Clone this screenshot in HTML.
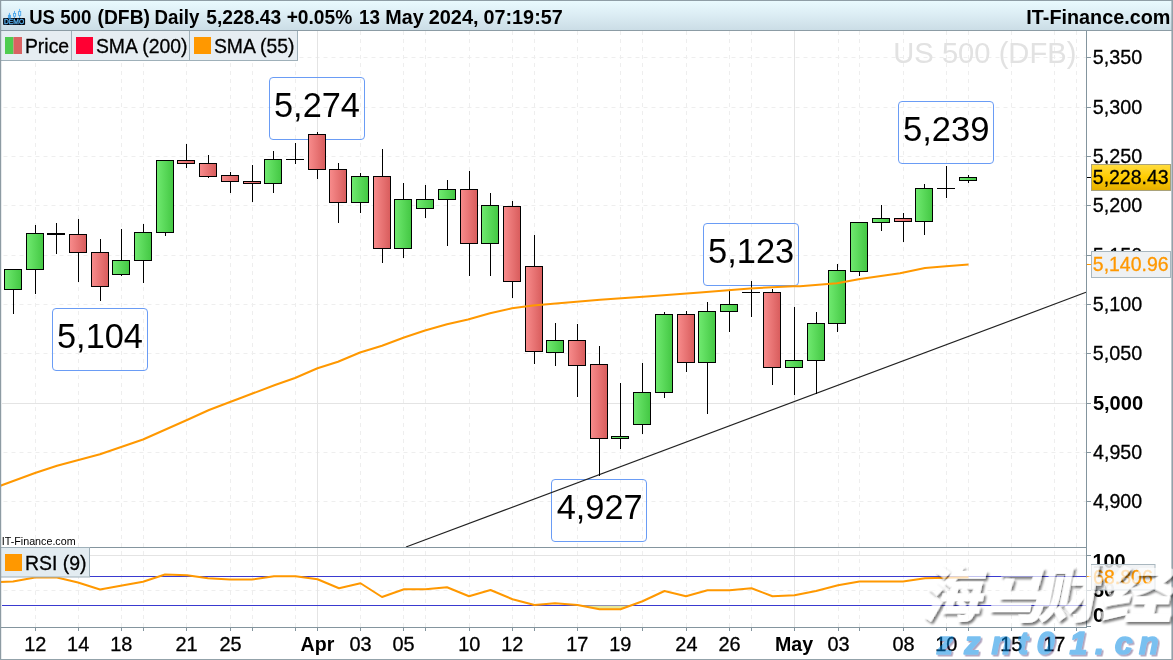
<!DOCTYPE html>
<html><head><meta charset="utf-8"><title>US 500 (DFB) Daily</title>
<style>
html,body{margin:0;padding:0;background:#fff;}
body{width:1173px;height:660px;overflow:hidden;position:relative;font-family:"Liberation Sans",sans-serif;}
svg{position:absolute;left:0;top:0;display:block;}
text{font-family:"Liberation Sans",sans-serif;}
.cjk{font-family:"Liberation Sans","Noto Sans CJK SC",sans-serif;}
</style></head><body>
<svg width="1173" height="660" viewBox="0 0 1173 660">
<defs>
<linearGradient id="hdr" x1="0" y1="0" x2="0" y2="1"><stop offset="0" stop-color="#eafbff"/><stop offset="0.5" stop-color="#dbecf3"/><stop offset="1" stop-color="#cadce5"/></linearGradient>
<linearGradient id="gG" x1="0" y1="0" x2="1" y2="0"><stop offset="0" stop-color="#70ea70"/><stop offset="1" stop-color="#43c743"/></linearGradient>
<linearGradient id="gR" x1="0" y1="0" x2="1" y2="0"><stop offset="0" stop-color="#f88c8c"/><stop offset="1" stop-color="#d85c5c"/></linearGradient>
<linearGradient id="gY" x1="0" y1="0" x2="0" y2="1"><stop offset="0" stop-color="#ffdc40"/><stop offset="0.5" stop-color="#ffcc00"/><stop offset="1" stop-color="#e4ae00"/></linearGradient>
<filter id="sh" x="-10%" y="-10%" width="130%" height="130%"><feDropShadow dx="2.5" dy="2.5" stdDeviation="1.3" flood-color="#000" flood-opacity="0.75"/></filter>
<filter id="sh2" x="-10%" y="-10%" width="130%" height="130%"><feDropShadow dx="1.6" dy="1.6" stdDeviation="0.6" flood-color="#402060" flood-opacity="0.8"/></filter>
</defs>
<rect x="0" y="0" width="1173" height="660" fill="#ffffff"/>

<g stroke="#eeeeee" stroke-width="1" stroke-dasharray="4 4" fill="none">
<line x1="35.5" y1="31" x2="35.5" y2="627"/>
<line x1="78.5" y1="31" x2="78.5" y2="627"/>
<line x1="121.5" y1="31" x2="121.5" y2="627"/>
<line x1="143.5" y1="31" x2="143.5" y2="627"/>
<line x1="186.5" y1="31" x2="186.5" y2="627"/>
<line x1="230.5" y1="31" x2="230.5" y2="627"/>
<line x1="252.5" y1="31" x2="252.5" y2="627"/>
<line x1="295.5" y1="31" x2="295.5" y2="627"/>
<line x1="360.5" y1="31" x2="360.5" y2="627"/>
<line x1="403.5" y1="31" x2="403.5" y2="627"/>
<line x1="425.5" y1="31" x2="425.5" y2="627"/>
<line x1="469.5" y1="31" x2="469.5" y2="627"/>
<line x1="512.5" y1="31" x2="512.5" y2="627"/>
<line x1="534.5" y1="31" x2="534.5" y2="627"/>
<line x1="577.5" y1="31" x2="577.5" y2="627"/>
<line x1="620.5" y1="31" x2="620.5" y2="627"/>
<line x1="642.5" y1="31" x2="642.5" y2="627"/>
<line x1="686.5" y1="31" x2="686.5" y2="627"/>
<line x1="729.5" y1="31" x2="729.5" y2="627"/>
<line x1="751.5" y1="31" x2="751.5" y2="627"/>
<line x1="838.5" y1="31" x2="838.5" y2="627"/>
<line x1="859.5" y1="31" x2="859.5" y2="627"/>
<line x1="903.5" y1="31" x2="903.5" y2="627"/>
<line x1="946.5" y1="31" x2="946.5" y2="627"/>
<line x1="968.5" y1="31" x2="968.5" y2="627"/>
<line x1="1011.5" y1="31" x2="1011.5" y2="627"/>
<line x1="1054.5" y1="31" x2="1054.5" y2="627"/>
<line x1="1076.5" y1="31" x2="1076.5" y2="627"/>
<line x1="-4.5" y1="57.5" x2="1086" y2="57.5"/>
<line x1="-4.5" y1="107.5" x2="1086" y2="107.5"/>
<line x1="-4.5" y1="156.5" x2="1086" y2="156.5"/>
<line x1="-4.5" y1="205.5" x2="1086" y2="205.5"/>
<line x1="-4.5" y1="255.5" x2="1086" y2="255.5"/>
<line x1="-4.5" y1="304.5" x2="1086" y2="304.5"/>
<line x1="-4.5" y1="353.5" x2="1086" y2="353.5"/>
<line x1="-4.5" y1="452.5" x2="1086" y2="452.5"/>
<line x1="-4.5" y1="501.5" x2="1086" y2="501.5"/>
<line x1="-4.5" y1="590.5" x2="1086" y2="590.5"/>
</g>
<g stroke="#e4e4e4" stroke-width="1" fill="none">
<line x1="317.5" y1="31" x2="317.5" y2="627"/>
<line x1="794.5" y1="31" x2="794.5" y2="627"/>
<line x1="2" y1="403.5" x2="1086" y2="403.5"/>
<line x1="2" y1="555.5" x2="1086" y2="555.5"/>
</g>
<text x="893.31" y="62.5" font-size="29" textLength="183.07" lengthAdjust="spacingAndGlyphs" fill="#e2e2e2">US 500 (DFB)</text>
<rect x="269.5" y="77.5" width="95" height="62" rx="3.5" ry="3.5" fill="none" stroke="#6a9cf5" stroke-width="1"/>
<text x="274.03" y="117.0" font-size="35.6" textLength="85.89" lengthAdjust="spacingAndGlyphs" fill="#000">5,274</text>
<rect x="52.5" y="308.5" width="95" height="62" rx="3.5" ry="3.5" fill="none" stroke="#6a9cf5" stroke-width="1"/>
<text x="57.03" y="348.0" font-size="35.6" textLength="85.89" lengthAdjust="spacingAndGlyphs" fill="#000">5,104</text>
<rect x="703.5" y="223.5" width="95" height="62" rx="3.5" ry="3.5" fill="none" stroke="#6a9cf5" stroke-width="1"/>
<text x="708.02" y="263.0" font-size="35.6" textLength="86.24" lengthAdjust="spacingAndGlyphs" fill="#000">5,123</text>
<rect x="551.5" y="479.5" width="95" height="62" rx="3.5" ry="3.5" fill="none" stroke="#6a9cf5" stroke-width="1"/>
<text x="556.71" y="519.0" font-size="35.6" textLength="85.89" lengthAdjust="spacingAndGlyphs" fill="#000">4,927</text>
<rect x="898.5" y="101.5" width="95" height="62" rx="3.5" ry="3.5" fill="none" stroke="#6a9cf5" stroke-width="1"/>
<text x="903.02" y="141.0" font-size="35.6" textLength="86.42" lengthAdjust="spacingAndGlyphs" fill="#000">5,239</text>
<line x1="406" y1="547" x2="1086" y2="292.3" stroke="#222" stroke-width="1.2"/>
<g stroke="#000" stroke-width="1">
<line x1="13.5" y1="269" x2="13.5" y2="314"/>
<rect x="4.5" y="269.5" width="17" height="20.0" fill="url(#gG)"/>
<line x1="35.5" y1="225" x2="35.5" y2="294"/>
<rect x="26.5" y="233.5" width="17" height="36.0" fill="url(#gG)"/>
<line x1="56.5" y1="223" x2="56.5" y2="254"/>
<line x1="47" y1="234.0" x2="65" y2="234.0" stroke-width="2"/>
<line x1="78.5" y1="219" x2="78.5" y2="282"/>
<rect x="69.5" y="234.5" width="17" height="18.0" fill="url(#gR)"/>
<line x1="100.5" y1="239" x2="100.5" y2="301"/>
<rect x="91.5" y="252.5" width="17" height="34.0" fill="url(#gR)"/>
<line x1="121.5" y1="229" x2="121.5" y2="276"/>
<rect x="112.5" y="260.5" width="17" height="14.0" fill="url(#gG)"/>
<line x1="143.5" y1="224" x2="143.5" y2="283"/>
<rect x="134.5" y="232.5" width="17" height="28.0" fill="url(#gG)"/>
<line x1="165.5" y1="160" x2="165.5" y2="236"/>
<rect x="156.5" y="160.5" width="17" height="72.0" fill="url(#gG)"/>
<line x1="186.5" y1="144" x2="186.5" y2="168"/>
<rect x="177.5" y="160.5" width="17" height="3.0" fill="url(#gR)"/>
<line x1="208.5" y1="155" x2="208.5" y2="178"/>
<rect x="199.5" y="163.5" width="17" height="13.0" fill="url(#gR)"/>
<line x1="230.5" y1="172" x2="230.5" y2="193"/>
<rect x="221.5" y="175.5" width="17" height="6.0" fill="url(#gR)"/>
<line x1="252.5" y1="165" x2="252.5" y2="202"/>
<rect x="243.5" y="181.5" width="17" height="2.0" fill="url(#gR)"/>
<line x1="273.5" y1="151" x2="273.5" y2="193"/>
<rect x="264.5" y="159.5" width="17" height="24.0" fill="url(#gG)"/>
<line x1="295.5" y1="143" x2="295.5" y2="164"/>
<line x1="286" y1="159.5" x2="304" y2="159.5" stroke-width="1"/>
<line x1="317.5" y1="132" x2="317.5" y2="179"/>
<rect x="308.5" y="134.5" width="17" height="35.0" fill="url(#gR)"/>
<line x1="338.5" y1="163" x2="338.5" y2="223"/>
<rect x="329.5" y="169.5" width="17" height="33.0" fill="url(#gR)"/>
<line x1="360.5" y1="173" x2="360.5" y2="213"/>
<rect x="351.5" y="176.5" width="17" height="26.0" fill="url(#gG)"/>
<line x1="382.5" y1="149" x2="382.5" y2="263"/>
<rect x="373.5" y="176.5" width="17" height="72.0" fill="url(#gR)"/>
<line x1="403.5" y1="183" x2="403.5" y2="258"/>
<rect x="394.5" y="199.5" width="17" height="49.0" fill="url(#gG)"/>
<line x1="425.5" y1="185" x2="425.5" y2="218"/>
<rect x="416.5" y="199.5" width="17" height="9.0" fill="url(#gG)"/>
<line x1="447.5" y1="180" x2="447.5" y2="246"/>
<rect x="438.5" y="189.5" width="17" height="10.0" fill="url(#gG)"/>
<line x1="469.5" y1="171" x2="469.5" y2="276"/>
<rect x="460.5" y="189.5" width="17" height="54.0" fill="url(#gR)"/>
<line x1="490.5" y1="193" x2="490.5" y2="276"/>
<rect x="481.5" y="205.5" width="17" height="38.0" fill="url(#gG)"/>
<line x1="512.5" y1="201" x2="512.5" y2="298"/>
<rect x="503.5" y="206.5" width="17" height="75.0" fill="url(#gR)"/>
<line x1="534.5" y1="235" x2="534.5" y2="364"/>
<rect x="525.5" y="266.5" width="17" height="85.0" fill="url(#gR)"/>
<line x1="555.5" y1="323" x2="555.5" y2="366"/>
<rect x="546.5" y="340.5" width="17" height="12.0" fill="url(#gG)"/>
<line x1="577.5" y1="324" x2="577.5" y2="397"/>
<rect x="568.5" y="340.5" width="17" height="25.0" fill="url(#gR)"/>
<line x1="599.5" y1="346" x2="599.5" y2="476"/>
<rect x="590.5" y="364.5" width="17" height="74.0" fill="url(#gR)"/>
<line x1="620.5" y1="383" x2="620.5" y2="449"/>
<rect x="611.5" y="436.5" width="17" height="2.0" fill="url(#gG)"/>
<line x1="642.5" y1="363" x2="642.5" y2="434"/>
<rect x="633.5" y="392.5" width="17" height="32.0" fill="url(#gG)"/>
<line x1="664.5" y1="312" x2="664.5" y2="398"/>
<rect x="655.5" y="314.5" width="17" height="78.0" fill="url(#gG)"/>
<line x1="686.5" y1="311" x2="686.5" y2="372"/>
<rect x="677.5" y="314.5" width="17" height="48.0" fill="url(#gR)"/>
<line x1="707.5" y1="302" x2="707.5" y2="414"/>
<rect x="698.5" y="311.5" width="17" height="51.0" fill="url(#gG)"/>
<line x1="729.5" y1="290" x2="729.5" y2="332"/>
<rect x="720.5" y="304.5" width="17" height="7.0" fill="url(#gG)"/>
<line x1="751.5" y1="281" x2="751.5" y2="317"/>
<line x1="742" y1="292.5" x2="760" y2="292.5" stroke-width="1"/>
<line x1="772.5" y1="289" x2="772.5" y2="385"/>
<rect x="763.5" y="292.5" width="17" height="75.0" fill="url(#gR)"/>
<line x1="794.5" y1="307" x2="794.5" y2="395"/>
<rect x="785.5" y="360.5" width="17" height="7.0" fill="url(#gG)"/>
<line x1="816.5" y1="312" x2="816.5" y2="394"/>
<rect x="807.5" y="323.5" width="17" height="37.0" fill="url(#gG)"/>
<line x1="837.5" y1="264" x2="837.5" y2="332"/>
<rect x="828.5" y="270.5" width="17" height="53.0" fill="url(#gG)"/>
<line x1="859.5" y1="222" x2="859.5" y2="276"/>
<rect x="850.5" y="222.5" width="17" height="49.0" fill="url(#gG)"/>
<line x1="881.5" y1="205" x2="881.5" y2="231"/>
<rect x="872.5" y="218.5" width="17" height="4.0" fill="url(#gG)"/>
<line x1="903.5" y1="213" x2="903.5" y2="242"/>
<rect x="894.5" y="218.5" width="17" height="3.0" fill="url(#gR)"/>
<line x1="924.5" y1="184" x2="924.5" y2="235"/>
<rect x="915.5" y="188.5" width="17" height="33.0" fill="url(#gG)"/>
<line x1="946.5" y1="166" x2="946.5" y2="198"/>
<line x1="937" y1="188.5" x2="955" y2="188.5" stroke-width="1"/>
<line x1="968.5" y1="175" x2="968.5" y2="183"/>
<rect x="959.5" y="177.5" width="17" height="3.0" fill="url(#gG)"/>
</g>
<polyline fill="none" stroke="#ff9800" stroke-width="2" stroke-linejoin="round" points="0,486 1,485.5 35,473 57,465.75 100,454.25 143,439.5 187,420 209,410 230,402 240,398.25 275,385 295,378 317.5,368.25 338,361.75 360,352.5 382,345.75 404,337.5 425,330.5 447,324.25 468,319.5 490,313.25 512,308.25 533,305.5 553,303.75 600,299.75 650,296.25 700,292.5 750,288.5 793,286.25 800,286.25 837,283.25 860,279 900,273.25 925,268 946,266.25 968.5,264.5"/>
<text x="1.73" y="545.3" font-size="11" textLength="73.92" lengthAdjust="spacingAndGlyphs" fill="#000">IT-Finance.com</text>
<rect x="0" y="547" width="1087" height="1" fill="#84959e"/>
<line x1="2" y1="576.5" x2="1086" y2="576.5" stroke="#3a3ad0" stroke-width="1"/>
<line x1="2" y1="605.5" x2="1086" y2="605.5" stroke="#3a3ad0" stroke-width="1"/>
<polygon points="577.5,605.5 599.5,609.25 620.5,609.25 632,605.5" fill="#e6e89a"/>
<polyline fill="none" stroke="#ff9800" stroke-width="2" stroke-linejoin="round" points="0,582 13,581.5 35,577.5 57,577.5 78,582.5 100,589.5 122,585.5 143,581.75 165,574.5 187,575.25 208,578.25 230,579.5 252,579.5 274,576.25 295.5,576.25 317.5,579.25 339,588.25 360.5,583.25 382,597 404,589.25 425.5,589.25 447,587.25 469,596.25 490.5,590 512.5,599.25 534.5,605 555,603.25 577.5,605 599.5,609.25 620.5,609.25 642.5,601.25 664.5,591 686,596.25 707.5,590.25 729.5,590.25 751.5,588.25 772.5,596.25 794.5,595.25 816,591 838,585.25 859.5,581.4 881,581.4 903,581.4 925,578.2 946,577.8 968.5,577.3"/>
<rect x="0.5" y="547.5" width="89" height="29.5" fill="#e3ecf1" stroke="#9fb0b9" stroke-width="1"/>
<rect x="5" y="554" width="17" height="17" fill="#ff9800"/>
<text x="25.04" y="569.9" font-size="19.9" textLength="61.56" lengthAdjust="spacingAndGlyphs" fill="#000" stroke="#000" stroke-width="0.3">RSI (9)</text>
<rect x="1086" y="31" width="1" height="597" fill="#84959e"/>
<rect x="0" y="627" width="1087" height="1" fill="#84959e"/>
<g stroke="#84959e" stroke-width="1">
<line x1="1087" y1="57.5" x2="1091" y2="57.5"/>
<line x1="1087" y1="107.5" x2="1091" y2="107.5"/>
<line x1="1087" y1="156.5" x2="1091" y2="156.5"/>
<line x1="1087" y1="205.5" x2="1091" y2="205.5"/>
<line x1="1087" y1="255.5" x2="1091" y2="255.5"/>
<line x1="1087" y1="304.5" x2="1091" y2="304.5"/>
<line x1="1087" y1="353.5" x2="1091" y2="353.5"/>
<line x1="1087" y1="452.5" x2="1091" y2="452.5"/>
<line x1="1087" y1="501.5" x2="1091" y2="501.5"/>
<line x1="1087" y1="403.5" x2="1091" y2="403.5"/>
<line x1="1087" y1="555.5" x2="1091" y2="555.5"/>
<line x1="1087" y1="590.5" x2="1091" y2="590.5"/>
<line x1="1087" y1="626.5" x2="1091" y2="626.5"/>
<line x1="35.5" y1="628" x2="35.5" y2="631"/>
<line x1="78.5" y1="628" x2="78.5" y2="631"/>
<line x1="121.5" y1="628" x2="121.5" y2="631"/>
<line x1="143.5" y1="628" x2="143.5" y2="631"/>
<line x1="186.5" y1="628" x2="186.5" y2="631"/>
<line x1="230.5" y1="628" x2="230.5" y2="631"/>
<line x1="252.5" y1="628" x2="252.5" y2="631"/>
<line x1="295.5" y1="628" x2="295.5" y2="631"/>
<line x1="360.5" y1="628" x2="360.5" y2="631"/>
<line x1="403.5" y1="628" x2="403.5" y2="631"/>
<line x1="425.5" y1="628" x2="425.5" y2="631"/>
<line x1="469.5" y1="628" x2="469.5" y2="631"/>
<line x1="512.5" y1="628" x2="512.5" y2="631"/>
<line x1="534.5" y1="628" x2="534.5" y2="631"/>
<line x1="577.5" y1="628" x2="577.5" y2="631"/>
<line x1="620.5" y1="628" x2="620.5" y2="631"/>
<line x1="642.5" y1="628" x2="642.5" y2="631"/>
<line x1="686.5" y1="628" x2="686.5" y2="631"/>
<line x1="729.5" y1="628" x2="729.5" y2="631"/>
<line x1="751.5" y1="628" x2="751.5" y2="631"/>
<line x1="838.5" y1="628" x2="838.5" y2="631"/>
<line x1="859.5" y1="628" x2="859.5" y2="631"/>
<line x1="903.5" y1="628" x2="903.5" y2="631"/>
<line x1="946.5" y1="628" x2="946.5" y2="631"/>
<line x1="968.5" y1="628" x2="968.5" y2="631"/>
<line x1="1011.5" y1="628" x2="1011.5" y2="631"/>
<line x1="1054.5" y1="628" x2="1054.5" y2="631"/>
<line x1="1076.5" y1="628" x2="1076.5" y2="631"/>
<line x1="317.5" y1="628" x2="317.5" y2="631"/>
<line x1="794.5" y1="628" x2="794.5" y2="631"/>
</g>
<g font-size="18.6" fill="#000">
<text x="1092.71" y="63.9" font-size="19.8" textLength="49.43" lengthAdjust="spacingAndGlyphs" fill="#000" stroke="#000" stroke-width="0.3">5,350</text>
<text x="1092.71" y="113.9" font-size="19.8" textLength="49.43" lengthAdjust="spacingAndGlyphs" fill="#000" stroke="#000" stroke-width="0.3">5,300</text>
<text x="1092.71" y="162.9" font-size="19.8" textLength="49.43" lengthAdjust="spacingAndGlyphs" fill="#000" stroke="#000" stroke-width="0.3">5,250</text>
<text x="1092.71" y="211.9" font-size="19.8" textLength="49.43" lengthAdjust="spacingAndGlyphs" fill="#000" stroke="#000" stroke-width="0.3">5,200</text>
<text x="1092.71" y="261.9" font-size="19.8" textLength="49.43" lengthAdjust="spacingAndGlyphs" fill="#000" stroke="#000" stroke-width="0.3">5,150</text>
<text x="1092.71" y="310.9" font-size="19.8" textLength="49.43" lengthAdjust="spacingAndGlyphs" fill="#000" stroke="#000" stroke-width="0.3">5,100</text>
<text x="1092.71" y="359.9" font-size="19.8" textLength="49.43" lengthAdjust="spacingAndGlyphs" fill="#000" stroke="#000" stroke-width="0.3">5,050</text>
<text x="1093.11" y="458.9" font-size="19.8" textLength="49.03" lengthAdjust="spacingAndGlyphs" fill="#000" stroke="#000" stroke-width="0.3">4,950</text>
<text x="1093.11" y="507.9" font-size="19.8" textLength="49.03" lengthAdjust="spacingAndGlyphs" fill="#000" stroke="#000" stroke-width="0.3">4,900</text>
<text x="1092.90" y="409.9" font-size="19.8" textLength="50.15" lengthAdjust="spacingAndGlyphs" font-weight="bold" fill="#000">5,000</text>
</g>
<text x="1092.40" y="567.5" font-size="19.8" textLength="33.26" lengthAdjust="spacingAndGlyphs" font-weight="bold" fill="#000">100</text>
<text x="1093.01" y="597" font-size="19.8" textLength="22.03" lengthAdjust="spacingAndGlyphs" font-weight="bold" fill="#000">50</text>
<text x="1092.96" y="622" font-size="19.8" textLength="11.71" lengthAdjust="spacingAndGlyphs" font-weight="bold" fill="#000">0</text>
<text x="24.31" y="650.6" font-size="19.8" textLength="22.14" lengthAdjust="spacingAndGlyphs" fill="#000" stroke="#000" stroke-width="0.3">12</text>
<text x="67.11" y="650.6" font-size="19.8" textLength="22.14" lengthAdjust="spacingAndGlyphs" fill="#000" stroke="#000" stroke-width="0.3">14</text>
<text x="110.21" y="650.6" font-size="19.8" textLength="22.14" lengthAdjust="spacingAndGlyphs" fill="#000" stroke="#000" stroke-width="0.3">18</text>
<text x="175.51" y="650.6" font-size="19.8" textLength="22.14" lengthAdjust="spacingAndGlyphs" fill="#000" stroke="#000" stroke-width="0.3">21</text>
<text x="219.46" y="650.6" font-size="19.8" textLength="22.14" lengthAdjust="spacingAndGlyphs" fill="#000" stroke="#000" stroke-width="0.3">25</text>
<text x="300.60" y="650.6" font-size="19.8" textLength="33.75" lengthAdjust="spacingAndGlyphs" font-weight="bold" fill="#000">Apr</text>
<text x="349.56" y="650.6" font-size="19.8" textLength="22.14" lengthAdjust="spacingAndGlyphs" fill="#000" stroke="#000" stroke-width="0.3">03</text>
<text x="392.56" y="650.6" font-size="19.8" textLength="22.14" lengthAdjust="spacingAndGlyphs" fill="#000" stroke="#000" stroke-width="0.3">05</text>
<text x="458.16" y="650.6" font-size="19.8" textLength="22.14" lengthAdjust="spacingAndGlyphs" fill="#000" stroke="#000" stroke-width="0.3">10</text>
<text x="501.31" y="650.6" font-size="19.8" textLength="22.14" lengthAdjust="spacingAndGlyphs" fill="#000" stroke="#000" stroke-width="0.3">12</text>
<text x="566.31" y="650.6" font-size="19.8" textLength="22.14" lengthAdjust="spacingAndGlyphs" fill="#000" stroke="#000" stroke-width="0.3">17</text>
<text x="609.26" y="650.6" font-size="19.8" textLength="22.14" lengthAdjust="spacingAndGlyphs" fill="#000" stroke="#000" stroke-width="0.3">19</text>
<text x="675.36" y="650.6" font-size="19.8" textLength="22.14" lengthAdjust="spacingAndGlyphs" fill="#000" stroke="#000" stroke-width="0.3">24</text>
<text x="718.46" y="650.6" font-size="19.8" textLength="22.14" lengthAdjust="spacingAndGlyphs" fill="#000" stroke="#000" stroke-width="0.3">26</text>
<text x="774.95" y="650.6" font-size="19.8" textLength="38.13" lengthAdjust="spacingAndGlyphs" font-weight="bold" fill="#000">May</text>
<text x="827.56" y="650.6" font-size="19.8" textLength="22.14" lengthAdjust="spacingAndGlyphs" fill="#000" stroke="#000" stroke-width="0.3">03</text>
<text x="892.56" y="650.6" font-size="19.8" textLength="22.14" lengthAdjust="spacingAndGlyphs" fill="#000" stroke="#000" stroke-width="0.3">08</text>
<text x="935.16" y="650.6" font-size="19.8" textLength="22.14" lengthAdjust="spacingAndGlyphs" fill="#000" stroke="#000" stroke-width="0.3">10</text>
<text x="1000.21" y="650.6" font-size="19.8" textLength="22.14" lengthAdjust="spacingAndGlyphs" fill="#000" stroke="#000" stroke-width="0.3">15</text>
<text x="1043.31" y="650.6" font-size="19.8" textLength="22.14" lengthAdjust="spacingAndGlyphs" fill="#000" stroke="#000" stroke-width="0.3">17</text>
<line x1="1087" y1="264.5" x2="1092" y2="264.5" stroke="#ff9800"/>
<rect x="1091.5" y="251.5" width="79" height="26" fill="#eef1f3" stroke="#a9b7bf"/>
<text x="1092.82" y="270.8" font-size="19.8" textLength="75.71" lengthAdjust="spacingAndGlyphs" fill="#ff9800" stroke="#ff9800" stroke-width="0.3">5,140.96</text>
<line x1="1087" y1="177.5" x2="1092" y2="177.5" stroke="#000"/>
<rect x="1091.5" y="164.5" width="79" height="26" fill="url(#gY)" stroke="#a9a27a"/>
<text x="1092.82" y="183.8" font-size="19.8" textLength="75.71" lengthAdjust="spacingAndGlyphs" fill="#000" stroke="#000" stroke-width="0.3">5,228.43</text>
<line x1="1087" y1="576.5" x2="1092" y2="576.5" stroke="#ff9800"/>
<rect x="1091.5" y="564.5" width="63.5" height="25.5" fill="#eef1f3" fill-opacity="0.85" stroke="#a9b7bf"/>
<text x="1093.12" y="583.5" font-size="19.8" textLength="59.73" lengthAdjust="spacingAndGlyphs" fill="#ff9800" stroke="#ff9800" stroke-width="0.3">68.806</text>
<rect x="0" y="0" width="1173" height="31" fill="url(#hdr)"/>
<rect x="0" y="0" width="1173" height="1" fill="#8f9ea6"/>
<rect x="0" y="30" width="1173" height="1" fill="#8c9ca5"/>
<g><rect x="3.1" y="18" width="22" height="6.9" rx="0.9" fill="#05050c"/>
<text x="4" y="24" font-size="7" fill="#5bb8f5" stroke="#5bb8f5" stroke-width="0.3" textLength="20.2" lengthAdjust="spacingAndGlyphs">DEMO</text>
<g stroke="#4aa8ee" stroke-width="0.9" fill="none"><line x1="9.45" y1="12.9" x2="9.45" y2="18"/><rect x="8.4" y="15.3" width="2.1" height="2.7" fill="#4aa8ee"/><line x1="14.5" y1="10.9" x2="14.5" y2="13.1"/><line x1="14.5" y1="16.5" x2="14.5" y2="18"/><rect x="13.5" y="13.5" width="2.1" height="2.7"/><line x1="19.6" y1="8.9" x2="19.6" y2="11.1"/><line x1="19.6" y1="15.8" x2="19.6" y2="18"/><rect x="18.6" y="11.5" width="2.1" height="3.9"/></g></g>
<text y="23.9" font-size="19.9" font-weight="bold" fill="#000"><tspan x="29.14" textLength="25.68" lengthAdjust="spacingAndGlyphs">US</tspan> <tspan x="60.24" textLength="31.17" lengthAdjust="spacingAndGlyphs">500</tspan> <tspan x="97.54" textLength="52.46" lengthAdjust="spacingAndGlyphs">(DFB)</tspan> <tspan x="154.58" textLength="44.82" lengthAdjust="spacingAndGlyphs">Daily</tspan> <tspan x="206.32" textLength="74.80" lengthAdjust="spacingAndGlyphs">5,228.43</tspan> <tspan x="286.63" textLength="65.64" lengthAdjust="spacingAndGlyphs">+0.05%</tspan> <tspan x="359.07" textLength="20.93" lengthAdjust="spacingAndGlyphs">13</tspan> <tspan x="385.22" textLength="38.39" lengthAdjust="spacingAndGlyphs">May</tspan> <tspan x="428.70" textLength="49.84" lengthAdjust="spacingAndGlyphs">2024,</tspan> <tspan x="483.51" textLength="79.25" lengthAdjust="spacingAndGlyphs">07:19:57</tspan></text>
<text x="1026.31" y="23.9" font-size="19.9" textLength="144.06" lengthAdjust="spacingAndGlyphs" font-weight="bold" fill="#000">IT-Finance.com</text>
<rect x="0" y="31" width="297.5" height="29.5" fill="#e6edf2"/>
<g stroke="#9fb0b9" stroke-width="1" fill="none"><line x1="0" y1="60.5" x2="298" y2="60.5"/><line x1="71.5" y1="31" x2="71.5" y2="60.5"/><line x1="189.5" y1="31" x2="189.5" y2="60.5"/><line x1="297.5" y1="31" x2="297.5" y2="60.5"/></g>
<rect x="5" y="37" width="8.5" height="17" fill="#4fcc4f"/><rect x="13.5" y="37" width="8.5" height="17" fill="#d96262"/>
<text x="24.95" y="52.7" font-size="19.8" textLength="44.19" lengthAdjust="spacingAndGlyphs" fill="#000" stroke="#000" stroke-width="0.3">Price</text>
<rect x="76" y="37" width="17" height="17" fill="#ff0033"/>
<text x="95.93" y="52.7" font-size="19.8" textLength="91.52" lengthAdjust="spacingAndGlyphs" fill="#000" stroke="#000" stroke-width="0.3">SMA (200)</text>
<rect x="194" y="37" width="17" height="17" fill="#ff9800"/>
<text x="213.93" y="52.7" font-size="19.8" textLength="80.59" lengthAdjust="spacingAndGlyphs" fill="#000" stroke="#000" stroke-width="0.3">SMA (55)</text>
<rect x="0" y="0" width="1.2" height="660" fill="#8d9ba3"/>
<rect x="1171.4" y="0" width="1.6" height="660" fill="#93a1a9"/>
<rect x="0" y="659" width="1173" height="1" fill="#93a2aa"/>
<text class="cjk" transform="translate(0,617) skewX(-11)" font-size="60" font-weight="900" fill="#ffffff" opacity="0.7" filter="url(#sh)"><tspan x="921 986 1037">海马财</tspan><tspan x="1098" textLength="74" lengthAdjust="spacingAndGlyphs">经</tspan></text>
<g opacity="0.52" filter="url(#sh2)"><text y="653.6" x="937 964.2 991.6 1017.6 1036.8 1069.6 1095 1114.8 1139" font-size="32" font-weight="bold" font-style="italic" fill="#0088e4" stroke="#0088e4" stroke-width="1.6" stroke-linejoin="round">zznt01.cn</text></g>
</svg></body></html>
